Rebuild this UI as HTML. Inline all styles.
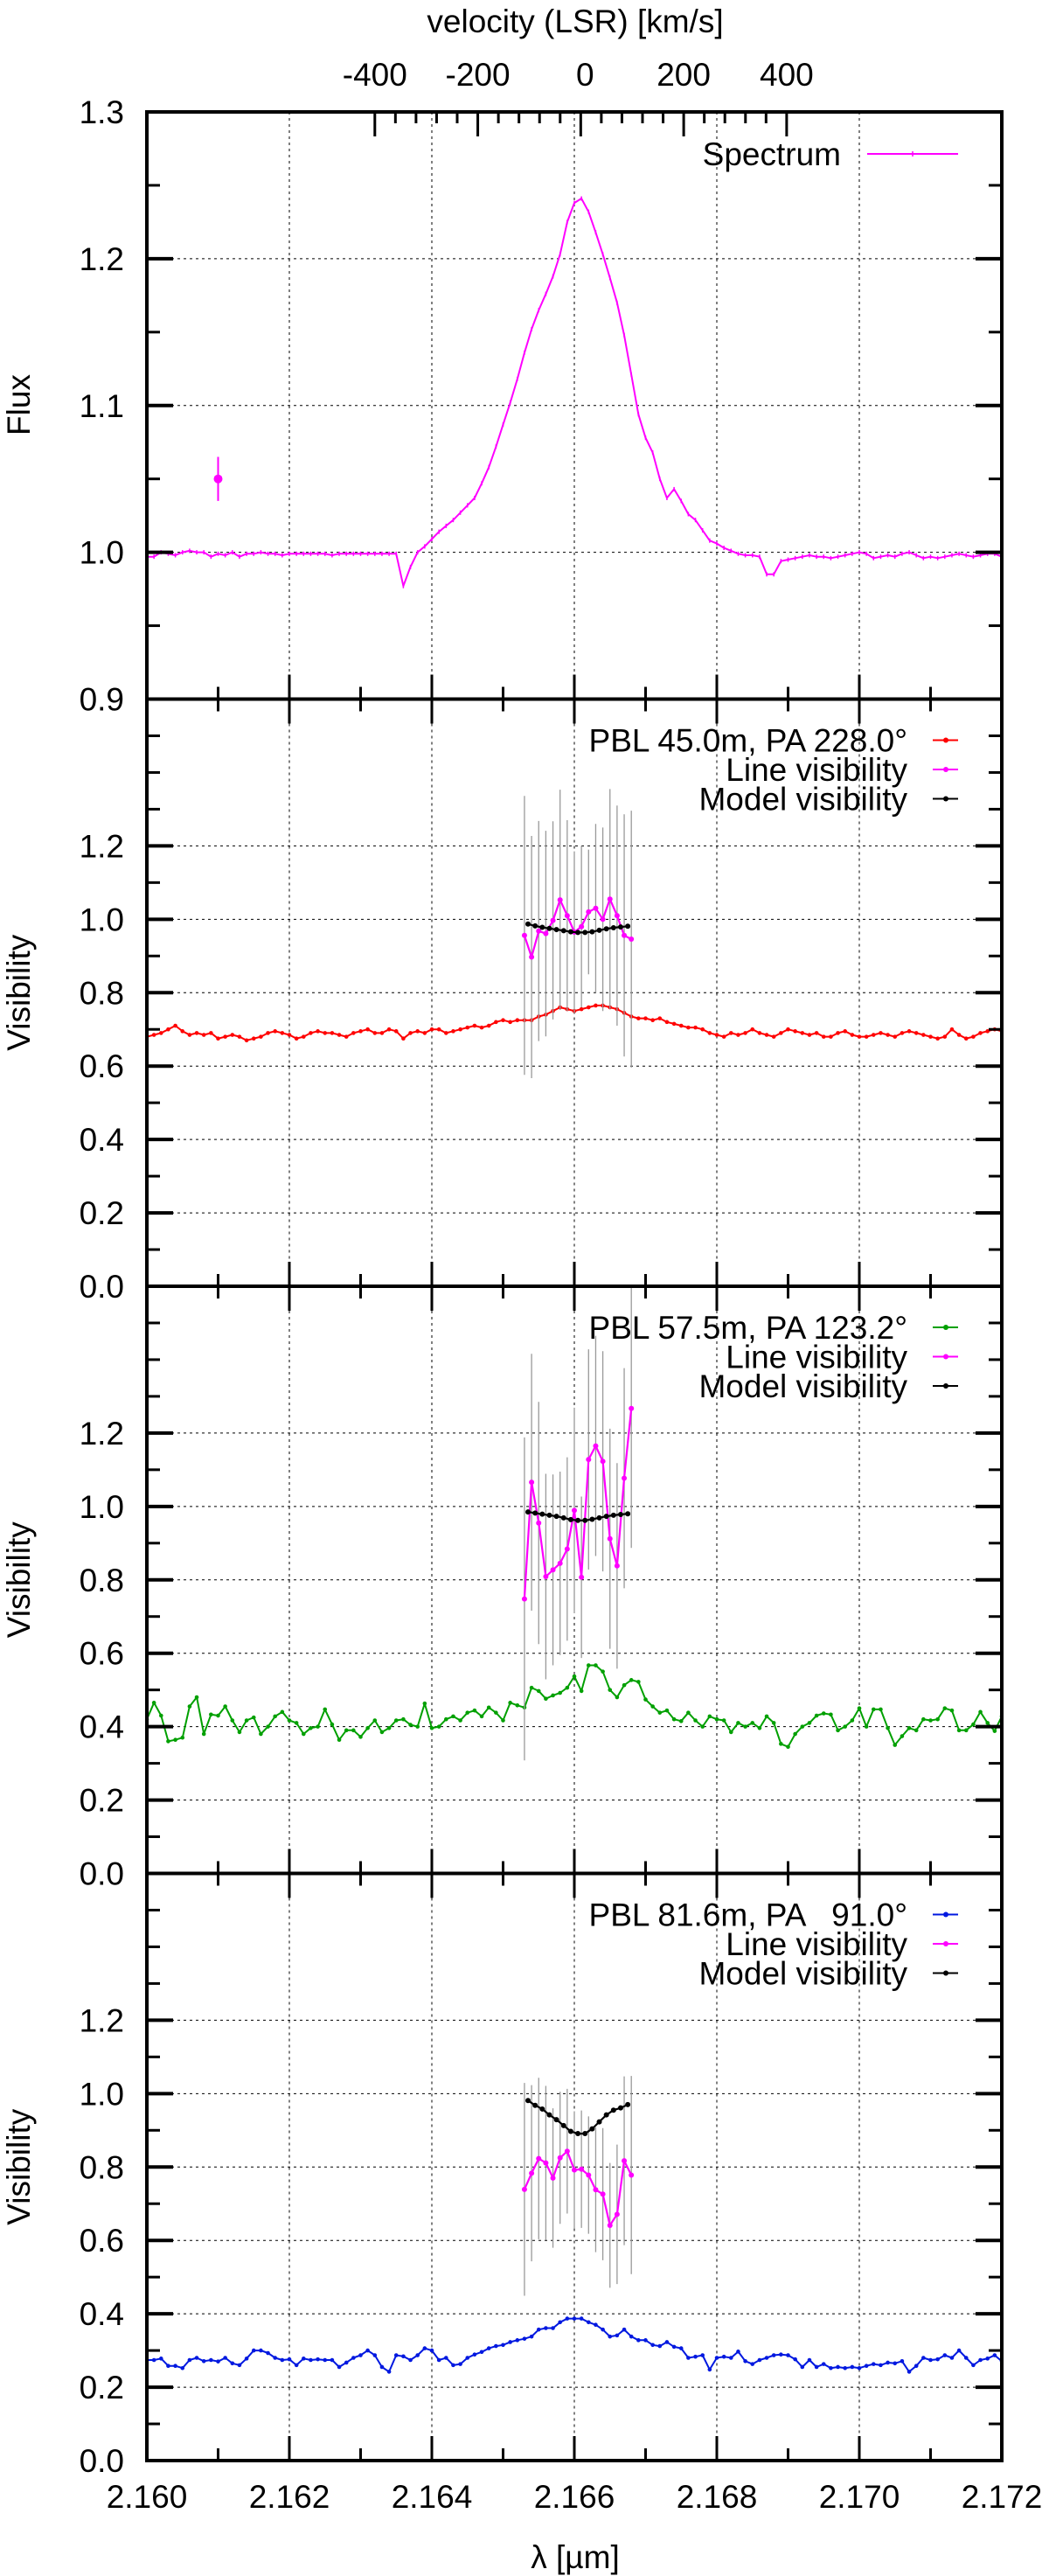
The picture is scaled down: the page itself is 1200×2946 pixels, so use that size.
<!DOCTYPE html>
<html><head><meta charset="utf-8"><style>
html,body{margin:0;padding:0;background:#fff;}
svg{display:block;font-family:"Liberation Sans",Arial,sans-serif;}
</style></head><body>
<svg id="chart" width="1200" height="2946" viewBox="0 0 1200 2946" xmlns="http://www.w3.org/2000/svg"></svg>
<script>
// ---------- data ----------
const lamStart = 2.160, lamEnd = 2.172;
const xTicks = [2.160, 2.162, 2.164, 2.166, 2.168, 2.170, 2.172];
const xTickLabels = ["2.160","2.162","2.164","2.166","2.168","2.170","2.172"];
const velTicks = [-400, -200, 0, 200, 400];
const velTickLabels = ["-400","-200","0","200","400"];
const fluxTicks = [0.9, 1.0, 1.1, 1.2, 1.3];
const fluxTickLabels = ["0.9","1.0","1.1","1.2","1.3"];
const visTicks = [0.0, 0.2, 0.4, 0.6, 0.8, 1.0, 1.2];
const visTickLabels = ["0.0","0.2","0.4","0.6","0.8","1.0","1.2"];

const spectrum = [0.997,0.997,1.000,0.999,0.998,1.000,1.001,1.000,1.000,0.997,0.999,0.998,1.000,0.997,0.999,0.999,1.000,0.999,0.999,0.998,0.999,0.999,0.999,0.999,0.999,0.999,0.998,0.999,0.999,0.999,0.999,0.999,0.999,0.999,0.999,0.999,
0.977,0.990,1.000,1.004,1.009,1.014,1.018,1.022,1.027,1.032,1.037,1.047,1.058,1.072,1.087,1.102,1.118,1.136,1.152,1.165,1.176,1.188,1.203,1.225,1.238,1.241,1.232,1.218,1.203,1.187,1.170,1.148,1.121,1.094,1.078,1.068,1.050,1.037,1.043,1.035,1.026,1.022,1.015,1.008,1.006,1.003,1.001,0.999,0.998,0.998,0.997,0.985,0.985,0.994,0.995,
0.996,0.997,0.998,0.997,0.997,0.996,0.997,0.998,0.999,1.000,0.999,0.996,0.997,0.998,0.997,0.999,1.000,0.998,0.996,0.997,0.996,0.997,0.998,0.999,0.998,0.997,0.998,0.999,0.999,0.997];
const specErrLam = 2.1610, specErrVal = 1.050, specErrSize = 0.015;

const visRed = [0.68,0.685,0.69,0.70,0.71,0.695,0.685,0.69,0.685,0.69,0.675,0.68,0.685,0.68,0.67,0.675,0.68,0.69,0.695,0.69,0.685,
0.675,0.68,0.69,0.695,0.69,0.69,0.685,0.68,0.69,0.695,0.70,0.69,0.69,0.70,0.695,0.675,0.69,0.695,0.69,0.70,
0.70,0.69,0.695,0.70,0.705,0.71,0.705,0.71,0.72,0.725,0.72,0.725,
0.725,0.725,0.735,0.74,0.75,0.76,0.755,0.75,0.755,0.76,0.765,0.765,0.76,0.755,0.745,0.735,0.73,0.73,
0.725,0.73,0.72,0.715,0.71,0.705,0.705,0.70,0.69,0.685,
0.68,0.69,0.685,0.69,0.70,0.69,0.685,0.68,0.69,0.70,0.695,0.69,0.685,0.69,0.68,0.68,0.69,0.695,0.685,0.68,0.68,0.685,0.69,0.685,0.68,0.69,0.695,0.69,0.685,0.68,0.675,0.68,0.70,0.685,0.675,0.68,0.69,0.695,0.70,0.695];
const visGreen = [0.42,0.465,0.43,0.36,0.364,0.37,0.455,0.48,0.38,0.433,0.43,0.455,0.417,0.385,0.417,0.425,0.38,0.40,0.428,0.44,0.417,
0.41,0.38,0.396,0.40,0.447,0.406,0.364,0.39,0.39,0.372,0.396,0.417,0.385,0.396,0.417,0.42,0.405,0.40,0.463,0.396,
0.40,0.42,0.428,0.417,0.438,0.444,0.428,0.452,0.438,0.417,0.465,0.458,0.452,0.506,0.497,0.476,0.485,0.492,0.506,0.537,0.497,0.567,0.567,0.55,0.50,0.48,0.513,0.527,0.522,0.474,0.455,0.438,0.444,0.42,0.415,0.438,0.417,0.40,0.428,0.42,
0.417,0.385,0.41,0.40,0.41,0.396,0.428,0.41,0.353,0.345,0.38,0.40,0.41,0.43,0.436,0.433,0.39,0.40,0.417,0.45,
0.40,0.447,0.447,0.396,0.35,0.374,0.396,0.39,0.42,0.417,0.42,0.45,0.444,0.39,0.39,0.406,0.44,0.41,0.388,0.428];
const visBlue = [0.274,0.274,0.278,0.258,0.258,0.252,0.274,0.28,0.271,0.274,0.27,0.28,0.265,0.26,0.278,0.30,0.30,0.293,0.28,0.274,0.276,
0.26,0.278,0.274,0.276,0.274,0.274,0.255,0.267,0.28,0.287,0.30,0.287,0.255,0.242,0.287,0.284,0.274,0.287,0.306,0.30,
0.274,0.28,0.26,0.263,0.28,0.289,0.296,0.306,0.312,0.315,0.323,0.328,0.332,0.338,0.357,0.361,0.361,0.377,0.387,0.387,0.387,0.377,0.37,0.357,0.338,0.341,0.357,0.338,0.328,0.328,0.315,0.312,0.323,0.31,0.306,0.28,0.283,0.287,0.248,0.28,
0.283,0.28,0.297,0.271,0.263,0.274,0.28,0.287,0.289,0.287,0.276,0.255,0.274,0.255,0.263,0.252,0.255,0.252,0.255,0.252,
0.258,0.263,0.26,0.267,0.265,0.271,0.242,0.258,0.28,0.274,0.276,0.287,0.28,0.30,0.28,0.26,0.274,0.278,0.287,0.271];

const lineLam = [2.1653,2.1654,2.1655,2.1656,2.1657,2.1658,2.1659,2.1660,2.1661,2.1662,2.1663,2.1664,2.1665,2.1666,2.1667,2.1668];
const modelLam = [2.16535,2.16545,2.16555,2.16565,2.16575,2.16585,2.16595,2.16605,2.16615,2.16625,2.16635,2.16645,2.16655,2.16665,2.16675];

const lineVis1 = [0.956,0.897,0.968,0.961,0.997,1.053,1.01,0.965,0.98,1.02,1.03,1.0,1.055,1.01,0.956,0.946];
const lineErr1 = [0.38,0.33,0.30,0.28,0.27,0.30,0.26,0.22,0.22,0.17,0.23,0.25,0.30,0.30,0.33,0.35];
const modelVis1 = [0.987,0.982,0.978,0.975,0.972,0.969,0.966,0.964,0.964,0.966,0.970,0.974,0.977,0.979,0.981];

const lineVis2 = [0.748,1.066,0.955,0.809,0.827,0.845,0.884,0.989,0.807,1.128,1.165,1.123,0.912,0.838,1.077,1.267];
const lineErr2 = [0.44,0.35,0.33,0.28,0.26,0.25,0.25,0.28,0.22,0.30,0.30,0.30,0.30,0.28,0.30,0.38];
const modelVis2 = [0.985,0.982,0.979,0.976,0.973,0.969,0.964,0.962,0.962,0.965,0.969,0.973,0.976,0.978,0.980];

const lineVis3 = [0.739,0.783,0.823,0.811,0.770,0.825,0.843,0.792,0.794,0.778,0.738,0.726,0.641,0.671,0.817,0.778];
const lineErr3 = [0.29,0.24,0.22,0.21,0.19,0.18,0.17,0.16,0.16,0.16,0.17,0.18,0.17,0.19,0.23,0.27];
const modelVis3 = [0.981,0.968,0.958,0.942,0.929,0.913,0.897,0.891,0.891,0.904,0.923,0.942,0.955,0.961,0.970];

const legendTitles = ["PBL 45.0m, PA 228.0°","PBL 57.5m, PA 123.2°","PBL 81.6m, PA \u00a0\u00a091.0°"];

// ---------- layout ----------
const NS = "http://www.w3.org/2000/svg";
const svg = document.getElementById("chart");
const XL = 168, XR = 1146, PT0 = 128, PH = 671.5;
const FS = 37;
const lam0v = 2.16609;
function X(l){ return XL + (l - lamStart) / (lamEnd - lamStart) * (XR - XL); }
function XV(v){ return X(lam0v * (1 + v / 299792.458)); }
function panelTop(i){ return PT0 + i * PH; }
function Yf(f){ return PT0 + (1.3 - f) / 0.4 * PH; }
function Yv(i, v){ return panelTop(i) + PH - v / 1.6 * PH; }

function el(tag, attrs, parent){
  const e = document.createElementNS(NS, tag);
  for (const k in attrs) e.setAttribute(k, attrs[k]);
  (parent || svg).appendChild(e);
  return e;
}
function txt(s, x, y, anchor, parent, size){
  const t = el("text", {x:x, y:y, "text-anchor":anchor, "font-size":size||FS, fill:"#000"}, parent);
  t.textContent = s;
  return t;
}
function poly(pts, color, w, parent){
  return el("polyline", {points: pts.map(p => p[0].toFixed(1)+","+p[1].toFixed(1)).join(" "), fill:"none", stroke:color, "stroke-width":w, "stroke-linejoin":"round"}, parent);
}

const defs = el("defs", {});
for (let i = 0; i < 4; i++){
  const cp = el("clipPath", {id:"clip"+i}, defs);
  el("rect", {x:XL, y:panelTop(i), width:XR-XL, height:PH}, cp);
}

// ---------- grids ----------
const grid = el("g", {stroke:"#000", "stroke-width":1, "stroke-dasharray":"3,4"});


for (let i = 0; i < 4; i++){
  const top = panelTop(i), bot = top + PH;
  for (let k = 1; k < xTicks.length - 1; k++){
    el("line", {x1:X(xTicks[k]), x2:X(xTicks[k]), y1:top, y2:bot}, grid);
  }
  if (i === 0){
    for (let k = 1; k < fluxTicks.length - 1; k++) el("line", {x1:XL, x2:XR, y1:Yf(fluxTicks[k]), y2:Yf(fluxTicks[k])}, grid);
  } else {
    for (let k = 1; k < visTicks.length; k++) el("line", {x1:XL, x2:XR, y1:Yv(i, visTicks[k]), y2:Yv(i, visTicks[k])}, grid);
  }
}

// ---------- panel 1: spectrum ----------
const p1 = el("g", {"clip-path":"url(#clip0)"});


const specStep = (lamEnd - lamStart) / (spectrum.length - 1);
const specPts = spectrum.map((f, k) => [X(lamStart + k * specStep), Yf(f)]);
const specLine = poly(specPts, "#ff00ff", 2, p1);


specPts.forEach(p => el("line", {x1:p[0], x2:p[0], y1:p[1]-2.5, y2:p[1]+2.5, stroke:"#ff00ff", "stroke-width":1.5}, p1));
const errG = el("g", {});


el("line", {x1:X(specErrLam), x2:X(specErrLam), y1:Yf(specErrVal + specErrSize), y2:Yf(specErrVal - specErrSize), stroke:"#ff00ff", "stroke-width":2}, errG);
el("circle", {cx:X(specErrLam), cy:Yf(specErrVal), r:5, fill:"#ff00ff"}, errG);

// ---------- visibility panels ----------
const contSets = [visRed, visGreen, visBlue];
const contColors = ["#ff0000", "#00a000", "#0018e0"];
const lineSets = [lineVis1, lineVis2, lineVis3];
const errSets = [lineErr1, lineErr2, lineErr3];
const modelSets = [modelVis1, modelVis2, modelVis3];
for (let p = 0; p < 3; p++){
  const i = p + 1;
  const g = el("g", {"clip-path":"url(#clip"+i+")"});
  
  
  const cont = contSets[p];
  const step = (lamEnd - lamStart) / (cont.length - 1);
  const cp = cont.map((v, k) => [X(lamStart + k * step), Yv(i, v)]);
  const cl = poly(cp, contColors[p], 2, g);
  
  
  cp.forEach(pt => el("circle", {cx:pt[0], cy:pt[1], r:2.3, fill:contColors[p]}, g));
  const eb = el("g", {stroke:"#999", "stroke-width":1.3});
  g.appendChild(eb);
  
  
  lineSets[p].forEach((v, k) => {
    el("line", {x1:X(lineLam[k]), x2:X(lineLam[k]), y1:Yv(i, v + errSets[p][k]), y2:Yv(i, v - errSets[p][k])}, eb);
  });
  const lp = lineSets[p].map((v, k) => [X(lineLam[k]), Yv(i, v)]);
  const ll = poly(lp, "#ff00ff", 2.2, g);
  
  
  lp.forEach(pt => el("circle", {cx:pt[0], cy:pt[1], r:3, fill:"#ff00ff"}, g));
  const mp = modelSets[p].map((v, k) => [X(modelLam[k]), Yv(i, v)]);
  const ml = poly(mp, "#000", 2.2, g);
  
  
  mp.forEach(pt => el("circle", {cx:pt[0], cy:pt[1], r:3, fill:"#000"}, g));
}

// ---------- axes / frames ----------
const axes = el("g", {stroke:"#000", "stroke-linecap":"butt"});


for (let i = 0; i < 4; i++){
  const top = panelTop(i), bot = top + PH;
  if (i === 0){
    for (let k = 0; k <= 8; k++){
      const f = 0.9 + k * 0.05, y = Yf(f), major = (k % 2 === 0);
      const len = major ? 30 : 15, w = major ? 4 : 3;
      el("line", {x1:XL, x2:XL+len, y1:y, y2:y, "stroke-width":w}, axes);
      el("line", {x1:XR, x2:XR-len, y1:y, y2:y, "stroke-width":w}, axes);
    }
  } else {
    for (let k = 0; k <= 16; k++){
      const v = k * 0.1, y = Yv(i, v), major = (k % 2 === 0 && k <= 12);
      const len = major ? 30 : 15, w = major ? 4 : 3;
      el("line", {x1:XL, x2:XL+len, y1:y, y2:y, "stroke-width":w}, axes);
      el("line", {x1:XR, x2:XR-len, y1:y, y2:y, "stroke-width":w}, axes);
    }
  }
  for (let k = 0; k <= 12; k++){
    const x = X(lamStart + k * 0.001), major = (k % 2 === 0);
    const len = major ? 28 : 14;
    el("line", {x1:x, x2:x, y1:bot, y2:bot-len, "stroke-width":3}, axes);
    if (i > 0) el("line", {x1:x, x2:x, y1:top, y2:top+len, "stroke-width":3}, axes);
  }
  el("rect", {x:XL, y:top, width:XR-XL, height:PH, fill:"none", "stroke-width":4}, axes);
}
for (let v = -400; v <= 400; v += 40){
  const major = (v % 200 === 0);
  el("line", {x1:XV(v), x2:XV(v), y1:PT0, y2:PT0 + (major ? 28 : 13), "stroke-width":3}, axes);
}

// ---------- tick labels ----------
const lab = el("g", {});


fluxTicks.forEach((f, k) => {
  const t = txt(fluxTickLabels[k], 142, Yf(f) + 13, "end", lab);
  
  
});
for (let i = 1; i < 4; i++){
  visTicks.forEach((v, k) => {
    const t = txt(visTickLabels[k], 142, Yv(i, v) + 13, "end", lab);
    
    
  });
}
xTicks.forEach((l, k) => {
  const t = txt(xTickLabels[k], X(l), 2868, "middle", lab);
  
  
});
velTicks.forEach((v, k) => {
  const t = txt(velTickLabels[k], XV(v) + (v === 0 ? 5 : 0), 98, "middle", lab);
  
  
});

// ---------- axis titles ----------
const t1 = txt("velocity (LSR) [km/s]", 658, 37, "middle");


const t2 = txt("λ [µm]", 658, 2937, "middle");


const t3 = txt("Flux", 0, 0, "middle");
t3.setAttribute('transform', 'translate(34,463) rotate(-90)');


for (let i = 1; i < 4; i++){
  const t = txt("Visibility", 0, 0, "middle");
  t.setAttribute('transform', 'translate(34,' + (panelTop(i) + PH/2) + ') rotate(-90)');
  
  
}

// ---------- legends ----------
const lg0 = el("g", {});


txt("Spectrum", 962, 176 + 13, "end", lg0);
el("line", {x1:992, x2:1096, y1:176, y2:176, stroke:"#ff00ff", "stroke-width":2}, lg0);
el("line", {x1:1044, x2:1044, y1:173, y2:179, stroke:"#ff00ff", "stroke-width":1.5}, lg0);
for (let p = 0; p < 3; p++){
  const top = panelTop(p + 1);
  const entries = [legendTitles[p], "Line visibility", "Model visibility"];
  const colors = [contColors[p], "#ff00ff", "#000"];
  entries.forEach((s, r) => {
    const y = top + 47 + r * 33.5;
    const g = el("g", {});
    
    
    txt(s, 1038, y + 13, "end", g);
    el("line", {x1:1067, x2:1096, y1:y, y2:y, stroke:colors[r], "stroke-width":2}, g);
    el("circle", {cx:1082, cy:y, r:3, fill:colors[r]}, g);
  });
}
</script>
</body></html>
